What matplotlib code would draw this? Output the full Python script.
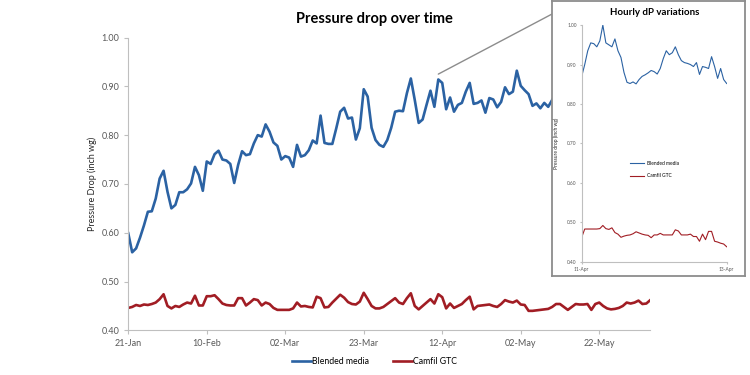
import matplotlib
matplotlib.use('Agg')
import matplotlib.pyplot as plt
from matplotlib.patches import ConnectionPatch

plt.rcParams['font.family'] = ['Lato', 'DejaVu Sans']

# Daily pressure drop, one value per day starting 21-Jan
blended = [0.599, 0.560, 0.568, 0.590, 0.615, 0.643, 0.644, 0.670, 0.711, 0.727,
           0.684, 0.650, 0.657, 0.683, 0.683, 0.689, 0.701, 0.735, 0.718, 0.686,
           0.746, 0.741, 0.761, 0.768, 0.750, 0.748, 0.741, 0.702, 0.739, 0.767,
           0.759, 0.761, 0.783, 0.800, 0.797, 0.822, 0.807, 0.785, 0.778, 0.750,
           0.757, 0.754, 0.735, 0.780, 0.756, 0.759, 0.769, 0.789, 0.783, 0.840,
           0.784, 0.782, 0.782, 0.814, 0.848, 0.856, 0.834, 0.836, 0.791, 0.814,
           0.894, 0.879, 0.815, 0.790, 0.780, 0.776, 0.790, 0.815, 0.848, 0.850,
           0.849, 0.886, 0.916, 0.872, 0.825, 0.832, 0.862, 0.891, 0.858, 0.914,
           0.907, 0.853, 0.877, 0.848, 0.862, 0.866, 0.889, 0.907, 0.864, 0.866,
           0.871, 0.846, 0.876, 0.873, 0.857, 0.868, 0.898, 0.884, 0.889, 0.932,
           0.901, 0.892, 0.884, 0.860, 0.865, 0.855, 0.866, 0.858, 0.872, 0.887,
           0.890, 0.905, 0.880, 0.870, 0.895, 0.910, 0.885, 0.870, 0.900, 0.915,
           0.890, 0.875, 0.900, 0.920, 0.895, 0.880, 0.905, 0.930, 0.900, 0.885,
           0.910, 0.920, 0.895, 0.900]
camfil = [0.446, 0.448, 0.452, 0.450, 0.453, 0.452, 0.454, 0.457, 0.464, 0.474,
          0.450, 0.445, 0.450, 0.448, 0.453, 0.457, 0.455, 0.471, 0.451, 0.451,
          0.470, 0.470, 0.472, 0.464, 0.455, 0.452, 0.451, 0.451, 0.466, 0.466,
          0.451, 0.457, 0.464, 0.462, 0.451, 0.457, 0.454, 0.446, 0.442, 0.442,
          0.442, 0.442, 0.445, 0.457, 0.449, 0.450, 0.448, 0.447, 0.469, 0.466,
          0.447, 0.448, 0.457, 0.465, 0.473, 0.467, 0.458, 0.454, 0.453, 0.459,
          0.477, 0.464, 0.450, 0.445, 0.445, 0.448, 0.454, 0.460, 0.466, 0.457,
          0.454, 0.466, 0.476, 0.450, 0.443, 0.450, 0.457, 0.464, 0.455, 0.474,
          0.468, 0.445, 0.455, 0.446, 0.450, 0.454, 0.462, 0.469, 0.443, 0.450,
          0.451, 0.452, 0.453, 0.450, 0.448, 0.454, 0.462, 0.459, 0.457, 0.461,
          0.453, 0.452, 0.440, 0.440, 0.441, 0.442, 0.443, 0.444, 0.448, 0.454,
          0.454, 0.448, 0.442, 0.448, 0.454, 0.453, 0.453, 0.454, 0.442, 0.454,
          0.457, 0.450, 0.445, 0.443, 0.444, 0.446, 0.450, 0.457, 0.455, 0.457,
          0.461, 0.454, 0.455, 0.462]
day_ticks = [0, 20, 40, 60, 80, 100, 120]
day_labels = ['21-Jan', '10-Feb', '02-Mar', '23-Mar', '12-Apr', '02-May', '22-May']
zoom_day = 79  # 11-Apr, where the hourly inset starts

# Hourly values 11-Apr 00:00 to 13-Apr 00:00
blended_hourly = [0.870, 0.900, 0.935, 0.955, 0.953, 0.945, 0.960, 1.000, 0.955, 0.950,
                  0.945, 0.965, 0.935, 0.918, 0.880, 0.855, 0.852, 0.856, 0.851, 0.862,
                  0.870, 0.874, 0.879, 0.885, 0.882, 0.876, 0.890, 0.915, 0.935, 0.925,
                  0.930, 0.945, 0.925, 0.910, 0.905, 0.903, 0.900, 0.895, 0.905, 0.875,
                  0.895, 0.893, 0.890, 0.920, 0.895, 0.865, 0.890, 0.862, 0.852]
camfil_hourly = [0.462, 0.483, 0.483, 0.483, 0.483, 0.483, 0.484, 0.492, 0.484, 0.482,
                 0.486, 0.474, 0.470, 0.462, 0.465, 0.467, 0.468, 0.471, 0.476, 0.473,
                 0.470, 0.468, 0.467, 0.461, 0.468, 0.468, 0.472, 0.468, 0.468, 0.468,
                 0.468, 0.481, 0.478, 0.468, 0.468, 0.468, 0.470, 0.464, 0.464, 0.452,
                 0.470, 0.456, 0.477, 0.477, 0.452, 0.450, 0.447, 0.445, 0.438]
hour_ticks = [0, 48]
hour_labels = ['11-Apr', '13-Apr']

blue = '#2b62a3'
red = '#a11d24'
grey_axis = '#bfbfbf'
grey_text = '#595959'

fig = plt.figure(figsize=(7.5, 3.75), dpi=100)

# main chart
ax = fig.add_axes([0.171, 0.119, 0.696, 0.781])
days = list(range(len(blended)))
ax.plot(days, blended, color=blue, lw=1.9, label='Blended media')
ax.plot(days, camfil, color=red, lw=1.9, label='Camfil GTC')
ax.set_xlim(0, len(blended) - 1)
ax.set_ylim(0.40, 1.00)
ax.set_yticks([0.40, 0.50, 0.60, 0.70, 0.80, 0.90, 1.00])
ax.set_yticklabels(['%.2f' % v for v in ax.get_yticks()])
ax.set_xticks(day_ticks)
ax.set_xticklabels(day_labels)
ax.tick_params(labelsize=6.5, colors=grey_axis, labelcolor=grey_text, length=3)
for s in ['top', 'right']:
    ax.spines[s].set_visible(False)
for s in ['left', 'bottom']:
    ax.spines[s].set_color(grey_axis)
ax.set_ylabel('Pressure Drop (inch wg)', fontsize=6.5, color='#262626', labelpad=3)
fig.text(0.4993, 0.948, 'Pressure drop over time', ha='center', va='center',
         fontsize=10.5, fontweight='bold')
fig.legend(loc='center', bbox_to_anchor=(0.4993, 0.037), ncol=2, frameon=False,
           fontsize=6.3, handlelength=2.2, columnspacing=2.8, handletextpad=0.1)

# inset frame
frame = fig.add_axes([0.736, 0.264, 0.257, 0.733], zorder=2)
frame.set_xticks([])
frame.set_yticks([])
for s in frame.spines.values():
    s.set_color('#8c8c8c')
    s.set_linewidth(1.3)

ins = fig.add_axes([0.7756, 0.302, 0.1933, 0.631], zorder=3)
ins.patch.set_alpha(0)
hours = list(range(len(blended_hourly)))
ins.plot(hours, blended_hourly, color=blue, lw=0.8, label='Blended media')
ins.plot(hours, camfil_hourly, color=red, lw=0.8, label='Camfil GTC')
ins.set_xlim(0, 48)
ins.set_ylim(0.40, 1.00)
ins.set_yticks([0.40, 0.50, 0.60, 0.70, 0.80, 0.90, 1.00])
ins.set_yticklabels(['%.2f' % v for v in ins.get_yticks()])
ins.set_xticks(hour_ticks)
ins.set_xticklabels(hour_labels)
ins.tick_params(labelsize=3.5, colors=grey_axis, labelcolor=grey_text, length=1.5, pad=2)
for s in ['top', 'right']:
    ins.spines[s].set_visible(False)
for s in ['left', 'bottom']:
    ins.spines[s].set_color(grey_axis)
ins.set_ylabel('Pressure drop (inch wg)', fontsize=3.5, color='#262626', labelpad=6)
ins.set_title('Hourly dP variations', fontsize=7, fontweight='bold', pad=7)
ins.legend(loc='center left', bbox_to_anchor=(0.3, 0.39), frameon=False,
           fontsize=3.5, handlelength=3, labelspacing=1.6, handletextpad=0.6)

# connector from the 11-Apr point to the inset
con = ConnectionPatch(xyA=(zoom_day, blended[zoom_day] + 0.011), coordsA=ax.transData,
                      xyB=(0, 0.953), coordsB=frame.transAxes,
                      color='#8c8c8c', lw=1.0)
fig.add_artist(con)

fig.savefig('out.png', dpi=100)
